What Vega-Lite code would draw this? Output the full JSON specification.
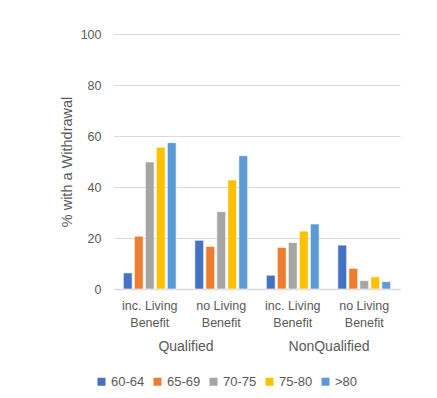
{
  "$schema": "https://vega.github.io/schema/vega-lite/v6.json",
  "width": 286,
  "height": 255,
  "autosize": {"type": "none"},
  "padding": {"left": 114, "top": 34, "right": 37, "bottom": 109},
  "background": "white",
  "config": {
    "font": "Liberation Sans",
    "view": {"stroke": null},
    "axis": {"labelColor": "#595959", "titleColor": "#595959", "labelFont": "Liberation Sans", "titleFont": "Liberation Sans"}
  },
  "layer": [
    {
      "data": {
        "values": [
          {"cat": "Q1", "age": "60-64", "v": 6.3},
          {"cat": "Q1", "age": "65-69", "v": 20.7},
          {"cat": "Q1", "age": "70-75", "v": 49.8},
          {"cat": "Q1", "age": "75-80", "v": 55.6},
          {"cat": "Q1", "age": ">80", "v": 57.4},
          {"cat": "Q2", "age": "60-64", "v": 19.1},
          {"cat": "Q2", "age": "65-69", "v": 16.7},
          {"cat": "Q2", "age": "70-75", "v": 30.3},
          {"cat": "Q2", "age": "75-80", "v": 42.7},
          {"cat": "Q2", "age": ">80", "v": 52.3},
          {"cat": "N1", "age": "60-64", "v": 5.4},
          {"cat": "N1", "age": "65-69", "v": 16.3},
          {"cat": "N1", "age": "70-75", "v": 18.2},
          {"cat": "N1", "age": "75-80", "v": 22.7},
          {"cat": "N1", "age": ">80", "v": 25.5},
          {"cat": "N2", "age": "60-64", "v": 17.2},
          {"cat": "N2", "age": "65-69", "v": 8.1},
          {"cat": "N2", "age": "70-75", "v": 3.3},
          {"cat": "N2", "age": "75-80", "v": 4.8},
          {"cat": "N2", "age": ">80", "v": 2.9}
        ]
      },
      "mark": {"type": "bar", "stroke": "white", "strokeWidth": 0.6},
      "encoding": {
        "x": {
          "field": "cat",
          "type": "nominal",
          "sort": ["Q1", "Q2", "N1", "N2"],
          "scale": {"paddingInner": 0, "paddingOuter": 0},
          "axis": {
            "title": null,
            "labelAngle": 0,
            "ticks": false,
            "domainColor": "#d9d9d9",
            "domainWidth": 1.5,
            "labelFontSize": 12.5,
            "labelPadding": 10,
            "labelLineHeight": 17,
            "labelBaseline": "top",
            "labelExpr": "indexof(datum.value, '1') >= 0 ? ['inc. Living', 'Benefit'] : ['no Living', 'Benefit']"
          }
        },
        "xOffset": {
          "field": "age",
          "type": "nominal",
          "sort": ["60-64", "65-69", "70-75", "75-80", ">80"],
          "scale": {"paddingInner": 0.2, "paddingOuter": 0.85}
        },
        "y": {
          "field": "v",
          "type": "quantitative",
          "scale": {"domain": [0, 100]},
          "axis": {
            "title": "% with a Withdrawal",
            "titleFontSize": 14.5,
            "titleFontWeight": "normal",
            "titlePadding": 6,
            "values": [0, 20, 40, 60, 80, 100],
            "domain": false,
            "ticks": false,
            "gridColor": "#d9d9d9",
            "labelFontSize": 12.5,
            "labelPadding": 13
          }
        },
        "color": {
          "field": "age",
          "type": "nominal",
          "sort": ["60-64", "65-69", "70-75", "75-80", ">80"],
          "scale": {"range": ["#4472C4", "#ED7D31", "#A5A5A5", "#FFC000", "#5B9BD5"]},
          "legend": {
            "title": null,
            "orient": "none",
            "direction": "horizontal",
            "legendX": -19,
            "legendY": 341,
            "symbolType": "square",
            "symbolSize": 64,
            "symbolStrokeWidth": 0,
            "symbolOpacity": 1,
            "labelFontSize": 13,
            "labelColor": "#595959",
            "labelOffset": 3,
            "columnPadding": 6
          }
        }
      }
    },
    {
      "data": {"values": [{"g": "Qualified"}, {"g": "NonQualified"}]},
      "mark": {"type": "point", "opacity": 0},
      "encoding": {
        "x": {
          "field": "g",
          "type": "nominal",
          "sort": ["Qualified", "NonQualified"],
          "scale": {"paddingInner": 0, "paddingOuter": 0},
          "axis": {
            "orient": "bottom",
            "title": null,
            "labelAngle": 0,
            "domain": false,
            "ticks": false,
            "grid": false,
            "labelFontSize": 14,
            "labelBaseline": "top",
            "labelPadding": 50
          }
        }
      }
    }
  ],
  "resolve": {"scale": {"x": "independent"}, "axis": {"x": "independent"}}
}
